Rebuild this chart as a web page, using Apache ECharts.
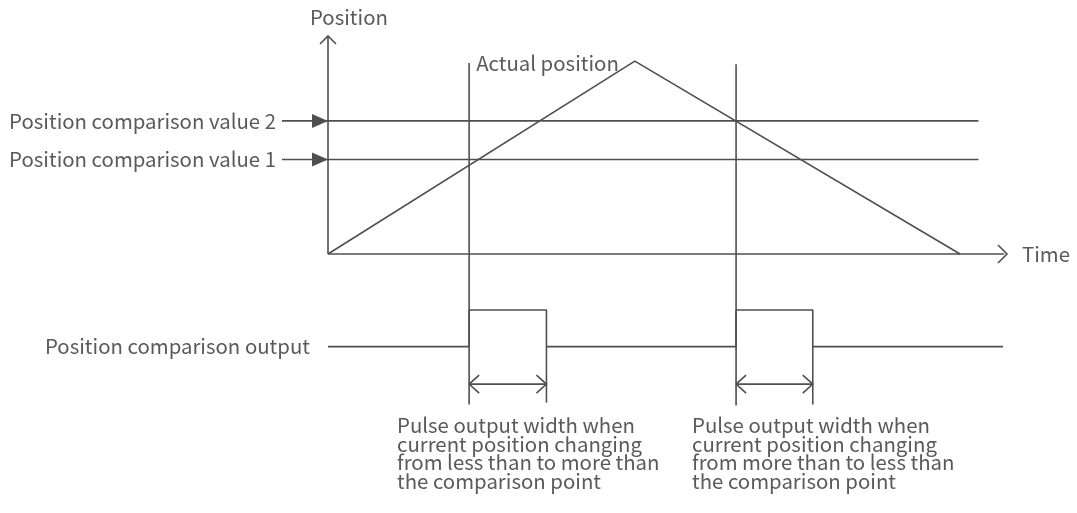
<!DOCTYPE html>
<html>
<head>
<meta charset="utf-8">
<script src="https://cdn.jsdelivr.net/npm/echarts@6/dist/echarts.min.js"></script>
<style>
html,body{margin:0;padding:0;background:#fff;}
#main{width:1077px;height:513px;}
</style>
</head>
<body>
<div id="main"></div>
<script>
//=================================================================================
//data (time / position units, origin at the axes corner)
var timeAxisEnd = 22.13;
var positionAxisEnd = 113;
var actualTime = [0, 10, 20.6];
var actualPos = [0, 100, 0];
var compareNames = ['Position comparison value 1', 'Position comparison value 2'];
var compareValues = [49, 69];
var compareStart = -1.5;
var compareEnd = 21.2;
//where the actual position crosses a comparison value
var crossTimes = [4.6, 13.3];
var crossTops = [99, 98.3];
var crossBottoms = [-78, -78.5];
//pulse output signal
var outputTime = [0, 4.6, 4.6, 7.12, 7.12, 13.3, 13.3, 15.8, 15.8, 22];
var outputLevel = [-48, -48, -29, -29, -48, -48, -29, -29, -48, -48];
var pulseEnds = [7.12, 15.8];
var pulseEndBottoms = [-77, -78];
var widthMarkY = -67.4;
var bottomNotes = [
	'Pulse output width when\ncurrent position changing\nfrom less than to more than\nthe comparison point',
	'Pulse output width when\ncurrent position changing\nfrom more than to less than\nthe comparison point'
];

var lineColor = '#4f4f4f';
var textColor = '#5a5a5a';
var fontName = '"Noto Sans CJK SC", "Noto Sans", sans-serif';

//=================================================================================
function zip(xs, ys){
	var arr = [];
	for(var i=0;i<xs.length;i++){
		arr.push([xs[i], ys[i]]);
	}
	return arr;
}
function seg(points){
	return {
		type : 'line',
		data : points,
		symbol : 'none',
		silent : true,
		clip : false,
		animation : false,
		lineStyle : {color : lineColor, width : 1.6}
	};
}

var series = [];
series.push(seg([[0, 0], [timeAxisEnd, 0]]));        //time axis
series.push(seg([[0, 0], [0, positionAxisEnd]]));    //position axis
series.push(seg(zip(actualTime, actualPos)));
for(var i=0;i<compareValues.length;i++){
	series.push(seg([[compareStart, compareValues[i]], [compareEnd, compareValues[i]]]));
}
for(var i=0;i<crossTimes.length;i++){
	series.push(seg([[crossTimes[i], crossTops[i]], [crossTimes[i], crossBottoms[i]]]));
	series.push(seg([[pulseEnds[i], outputLevel[0]], [pulseEnds[i], pulseEndBottoms[i]]]));
	series.push(seg([[crossTimes[i], widthMarkY], [pulseEnds[i], widthMarkY]]));
}
series.push(seg(zip(outputTime, outputLevel)));

var myChart = echarts.init(document.getElementById('main'));
myChart.setOption({
	animation : false,
	//x: 30.68 px per unit, y: 1.93 px per unit
	grid : {left : 266.64, top : 36, width : 736.36, height : 372.4},
	xAxis : {type : 'value', min : -2, max : 22, show : false},
	yAxis : {type : 'value', min : -80, max : 113, show : false},
	series : series
});

//=================================================================================
//arrow heads and texts, placed through the grid's scales
function px(x, y){
	return myChart.convertToPixel({gridIndex : 0}, [x, y]);
}
function chevron(tip, a, b){
	return {
		type : 'polyline', silent : true,
		shape : {points : [[tip[0]+a[0], tip[1]+a[1]], tip, [tip[0]+b[0], tip[1]+b[1]]]},
		style : {stroke : lineColor, lineWidth : 1.6, fill : null}
	};
}
function label(text, x, y, align, vAlign){
	return {
		type : 'text', silent : true,
		style : {
			text : text, x : x, y : y,
			fill : textColor, fontSize : 20.4, fontFamily : fontName,
			lineHeight : 18.6,
			textAlign : align, textVerticalAlign : vAlign
		}
	};
}

var graphics = [];
var yTip = px(0, positionAxisEnd);
var xTip = px(timeAxisEnd, 0);
graphics.push(chevron(yTip, [-8, 8], [8, 8]));
graphics.push(chevron(xTip, [-9, -9], [-9, 9]));
graphics.push(label('Position', yTip[0] - 18, yTip[1] - 19, 'left', 'middle'));
graphics.push(label('Time', xTip[0] + 15, xTip[1], 'left', 'middle'));

for(var i=0;i<compareValues.length;i++){
	var t = px(0, compareValues[i]);
	graphics.push({
		type : 'polygon', silent : true,
		shape : {points : [[t[0]-16, t[1]-7], t, [t[0]-16, t[1]+7]]},
		style : {fill : lineColor}
	});
	var s = px(compareStart, compareValues[i]);
	graphics.push(label(compareNames[i], s[0] - 6, s[1], 'right', 'middle'));
}

var top1 = px(crossTimes[0], crossTops[0]);
graphics.push(label('Actual position', top1[0] + 7, top1[1], 'left', 'middle'));

var outStart = px(0, outputLevel[0]);
graphics.push(label('Position comparison output', outStart[0] - 18, outStart[1], 'right', 'middle'));

for(var i=0;i<crossTimes.length;i++){
	var l = px(crossTimes[i], widthMarkY);
	var r = px(pulseEnds[i], widthMarkY);
	graphics.push(chevron(l, [10, -9], [10, 9]));
	graphics.push(chevron(r, [-10, -9], [-10, 9]));
}
graphics.push(label(bottomNotes[0], 397, 416, 'left', 'top'));
graphics.push(label(bottomNotes[1], 692, 416, 'left', 'top'));

myChart.setOption({graphic : graphics});
</script>
</body>
</html>
